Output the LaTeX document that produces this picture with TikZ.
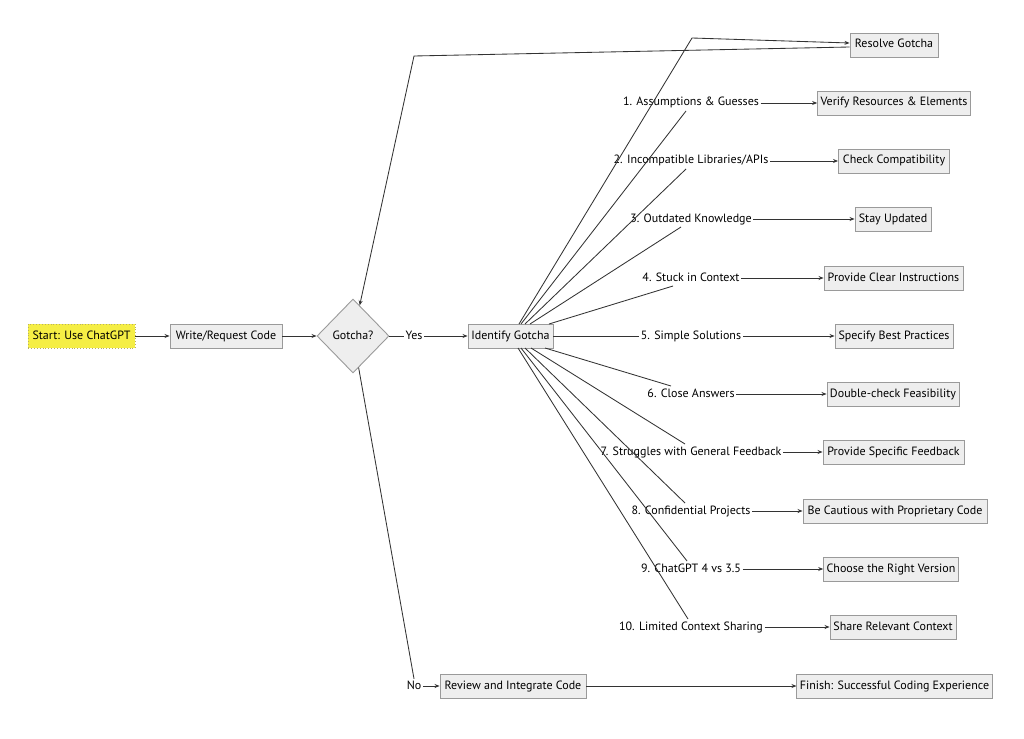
\documentclass[tikz,border=0pt]{standalone}
\usepackage{fontspec}
\setmainfont{PT Sans}
\usetikzlibrary{shapes.geometric,arrows.meta}
\definecolor{boxfill}{HTML}{EEEEEE}
\definecolor{boxline}{HTML}{9A9A9A}
\definecolor{edge}{HTML}{333333}
\definecolor{startfill}{HTML}{F5EE45}
\definecolor{startline}{HTML}{B8B060}
\tikzset{
  txt/.style={font=\fontsize{12}{14}\selectfont, text height=8.5pt, text depth=2.5pt},
  box/.style={txt, draw=boxline, fill=boxfill, line width=0.9pt, minimum height=24pt, inner xsep=3pt, inner ysep=0pt},
  startbox/.style={box, fill=startfill, draw=startline, dotted},
  lbl/.style={txt, inner sep=1.5pt},
  conn/.style={draw=edge, line width=0.85pt},
  arr/.style={conn, -{Stealth[length=5pt,width=4pt]}},
}
\begin{document}
\begin{tikzpicture}[x=1pt,y=-1pt]
\useasboundingbox (0,0) rectangle (1024,738);
% main flow
\node[startbox, minimum width=107pt] (start) at (81.5,336) {Start: Use ChatGPT};
\node[box, minimum width=112pt] (write) at (226,336) {Write/Request Code};
\node[box, shape=diamond, minimum width=72pt, minimum height=74pt, inner sep=0pt] (dia) at (353,336) {Gotcha?};
\node[lbl] (yes) at (414,336) {Yes};
\node[box, minimum width=85pt] (id) at (510.5,336) {Identify Gotcha};
\node[lbl] (no) at (414,686) {No};
\node[box, minimum width=146pt] (rev) at (513,686) {Review and Integrate Code};
\node[box, minimum width=195pt] (fin) at (894.5,686) {Finish: Successful Coding Experience};
\node[box, minimum width=88pt] (res) at (894,45) {Resolve Gotcha};

% labels
\node[lbl] (l1) at (691,103) {1. Assumptions \& Guesses};
\node[lbl] (l2) at (691,161) {2. Incompatible Libraries/APIs};
\node[lbl] (l3) at (691,219) {3. Outdated Knowledge};
\node[lbl] (l4) at (691,278) {4. Stuck in Context};
\node[lbl] (l5) at (691,336) {5. Simple Solutions};
\node[lbl] (l6) at (691,394) {6. Close Answers};
\node[lbl] (l7) at (691,452) {7. Struggles with General Feedback};
\node[lbl] (l8) at (691,511) {8. Confidential Projects};
\node[lbl] (l9) at (691,569) {9. ChatGPT 4 vs 3.5};
\node[lbl] (l10) at (691,627) {10. Limited Context Sharing};

% targets
\node[box, minimum width=152pt] (t1) at (894,103) {Verify Resources \& Elements};
\node[box, minimum width=111pt] (t2) at (894,161) {Check Compatibility};
\node[box, minimum width=76pt] (t3) at (893,219) {Stay Updated};
\node[box, minimum width=139pt] (t4) at (893.5,278) {Provide Clear Instructions};
\node[box, minimum width=118pt] (t5) at (894,336) {Specify Best Practices};
\node[box, minimum width=132pt] (t6) at (893,394) {Double-check Feasibility};
\node[box, minimum width=141pt] (t7) at (893.5,452) {Provide Specific Feedback};
\node[box, minimum width=184pt] (t8) at (895,511) {Be Cautious with Proprietary Code};
\node[box, minimum width=130pt] (t9) at (891,569) {Choose the Right Version};
\node[box, minimum width=126pt] (t10) at (893,627) {Share Relevant Context};

% helper coordinates
\coordinate (sR) at (519,324);
\coordinate (kR) at (692,38);
\coordinate (s1) at (521,324);  \coordinate (e1) at (686,111);
\coordinate (s2) at (525,324);  \coordinate (e2) at (686,169);
\coordinate (s3) at (530,324);  \coordinate (e3) at (681,227);
\coordinate (s4) at (549,324);  \coordinate (e4) at (673,286);
\coordinate (s6) at (545,348);  \coordinate (e6) at (671,386);
\coordinate (s7) at (531,348);  \coordinate (e7) at (685,444);
\coordinate (s8) at (525,348);  \coordinate (e8) at (685,503);
\coordinate (s9) at (521,348);  \coordinate (e9) at (687,561);
\coordinate (s10) at (518,348); \coordinate (e10) at (688,619);
\coordinate (kB) at (414,56);

% main edges
\draw[arr] (start) -- (write);
\draw[arr] (write) -- (dia);
\draw[conn] (dia) -- (yes);
\draw[arr] (yes) -- (id);
\draw[conn] (dia) -- (no.north);
\draw[arr] (no) -- (rev);
\draw[arr] (rev) -- (fin);

% loop back
\draw[arr] (sR) -- (kR) -- ([yshift=2pt]res.west);
\draw[arr] ([yshift=-2pt]res.west) -- (kB) -- (dia);

% fan
\draw[conn] (s1) -- (e1);
\draw[conn] (s2) -- (e2);
\draw[conn] (s3) -- (e3);
\draw[conn] (s4) -- (e4);
\draw[conn] (id) -- (l5);
\draw[conn] (s6) -- (e6);
\draw[conn] (s7) -- (e7);
\draw[conn] (s8) -- (e8);
\draw[conn] (s9) -- (e9);
\draw[conn] (s10) -- (e10);

\foreach \i in {1,...,10} {
  \draw[arr] (l\i) -- (t\i);
}
\end{tikzpicture}
\end{document}
